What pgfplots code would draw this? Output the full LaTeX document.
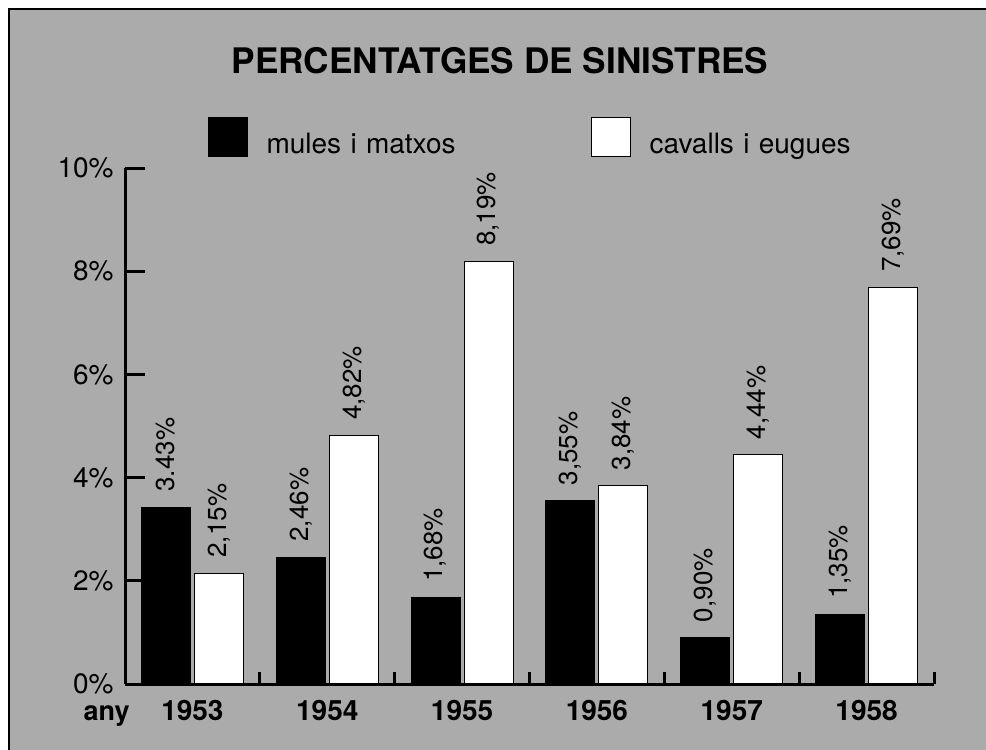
\documentclass[border=0pt]{standalone}
\usepackage{fontspec}
\setmainfont{TeX Gyre Heros}
\usepackage{pgfplots}
\usepackage{pgfplotstable}
\pgfplotsset{compat=1.18}
\definecolor{bg}{RGB}{171,171,171}
\pgfplotstableread{
x y lab
0 3.43 3.43
1 2.46 2,46
2 1.68 1,68
3 3.55 3,55
4 0.90 0,90
5 1.35 1,35
}\mules
\pgfplotstableread{
x y lab
0 2.15 2,15
1 4.82 4,82
2 8.19 8,19
3 3.84 3,84
4 4.44 4,44
5 7.69 7,69
}\cavalls
\begin{document}
\begin{tikzpicture}
\path[use as bounding box, fill=white] (0pt,0pt) rectangle (493pt,-375pt);
\fill[bg] (4.5pt,-4.5pt) rectangle (493pt,-375pt);
\draw[line width=1pt] (4.5pt,-375pt) -- (4.5pt,-4.5pt) -- (493pt,-4.5pt);
\node[anchor=base, font=\bfseries\fontsize{17.6}{20}\selectfont] at (250pt,-36.5pt) {PERCENTATGES DE SINISTRES};
\begin{axis}[
  at={(62.5pt,-342pt)}, anchor=south west,
  scale only axis, width=404.5pt, height=258pt,
  xmin=-0.5, xmax=5.5, ymin=0, ymax=10,
  enlargelimits=false, clip=false, axis on top,
  axis x line*=bottom, axis y line*=left,
  xtick pos=left, ytick pos=left,
  axis line style={-, line width=1.5pt, black},
  /pgf/number format/assume math mode=true,
  ytick={0,2,4,6,8,10},
  yticklabels={0\%,2\%,4\%,6\%,8\%,10\%},
  yticklabel style={anchor=east, inner sep=0pt, xshift=-5.5pt, font=\fontsize{14}{16}\selectfont},
  y tick style={draw=black, line width=1.5pt},
  major tick length=10pt,
  minor tick num=0,
  tick align=inside,
  xtick={0,...,5},
  xticklabels={1953,1954,1955,1956,1957,1958},
  xticklabel style={anchor=base, inner sep=0pt, yshift=-8pt, font=\bfseries\fontsize{14}{16}\selectfont},
  x tick style={draw=none},
  extra x ticks={0.5,1.5,2.5,3.5,4.5,5.5},
  extra x tick labels={},
  extra x tick style={major tick length=6pt, x tick style={draw=black, line width=1.5pt, yshift=6pt}},
  ybar=2pt, bar width=24.5pt,
  nodes near coords={\pgfplotspointmeta\%},
  point meta=explicit symbolic,
  every node near coord/.append style={rotate=90, anchor=west, inner sep=0pt, inner xsep=7.5pt, font=\fontsize{13}{15}\selectfont, black},
  legend columns=2,
  legend cell align=left,
  legend style={at={(0.102,1.0998)}, anchor=north west, draw=none, fill=none,
    inner sep=0pt, outer sep=0pt, column sep=0pt,
    font=\fontsize{14}{16}\selectfont,
    nodes={inner sep=0pt, outer sep=0pt},
    /tikz/every odd column/.append style={column sep=9.5pt},
    /tikz/every even column/.append style={text width=162pt}},
  legend image code/.code={\draw[#1, draw=black, line width=0.5pt] (0pt,-5.75pt) rectangle (19.5pt,13.75pt);},
]
\addplot[fill=black, draw=black, line width=0.5pt] table[x=x, y=y, meta=lab] {\mules};
\addlegendentry{mules i matxos}
\addplot[fill=white, draw=black, line width=0.5pt] table[x=x, y=y, meta=lab] {\cavalls};
\addlegendentry{cavalls i eugues}
\node[anchor=base east, inner sep=0pt, yshift=-18pt, font=\bfseries\fontsize{13.5}{16}\selectfont] at (xticklabel cs:0.0062) {any};
\end{axis}
\end{tikzpicture}
\end{document}
